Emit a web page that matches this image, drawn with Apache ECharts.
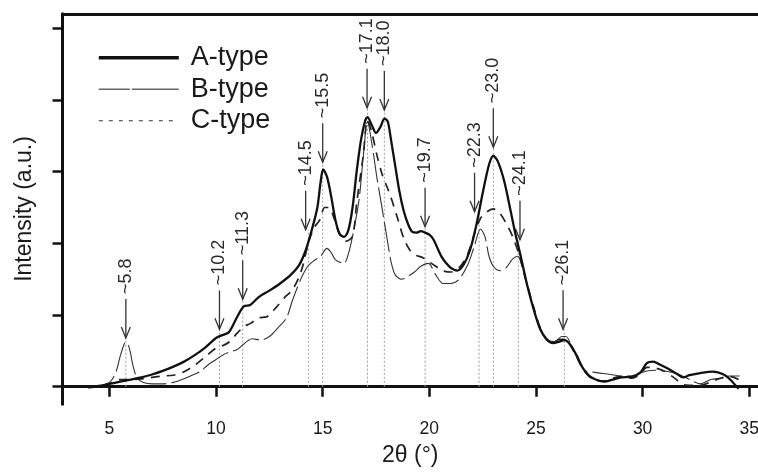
<!DOCTYPE html>
<html>
<head>
<meta charset="utf-8">
<script src="https://cdn.jsdelivr.net/npm/echarts@6/dist/echarts.min.js"></script>
<style>html,body{margin:0;padding:0;background:#fff;}#c{width:758px;height:472px;}</style>
</head>
<body>
<div id="c"></div>
<script>
// ---- data ----
const xTicks = [5, 10, 15, 20, 25, 30, 35];
const yTicks = [0, 1, 2, 3, 4, 5];

const aX = [4.0,4.5,5.0,5.5,6.0,6.5,7.0,7.5,8.0,8.5,9.0,9.5,10.0,10.3,10.6,11.0,11.3,11.6,12.0,12.5,13.0,13.5,13.9,14.2,14.5,14.75,14.9,15.02,15.2,15.4,15.6,15.8,16.0,16.2,16.4,16.6,16.8,17.0,17.1,17.3,17.5,17.7,17.9,18.05,18.2,18.4,18.6,18.8,19.0,19.2,19.4,19.6,19.8,20.0,20.2,20.4,20.6,20.8,21.0,21.3,21.6,21.9,22.2,22.5,22.8,23.0,23.2,23.5,23.8,24.0,24.3,24.6,24.9,25.2,25.5,25.8,26.1,26.35,26.6,26.9,27.2,27.5,27.8,28.2,28.6,29.0,29.5,29.9,30.2,30.5,30.8,31.2,31.6,31.9,32.2,32.7,33.3,33.8,34.1,34.5];
const aY = [-0.01,0.01,0.04,0.07,0.10,0.13,0.17,0.22,0.28,0.35,0.44,0.55,0.68,0.72,0.76,0.98,1.12,1.14,1.25,1.34,1.44,1.56,1.70,1.90,2.20,2.50,2.85,3.03,2.93,2.65,2.32,2.13,2.09,2.18,2.50,3.02,3.45,3.72,3.76,3.65,3.54,3.62,3.74,3.70,3.45,3.08,2.72,2.45,2.27,2.16,2.15,2.17,2.15,2.12,2.05,1.92,1.80,1.72,1.66,1.62,1.70,1.90,2.25,2.70,3.10,3.22,3.15,2.88,2.47,2.18,1.80,1.40,1.07,0.80,0.66,0.61,0.63,0.65,0.59,0.44,0.26,0.15,0.10,0.07,0.10,0.13,0.14,0.20,0.33,0.35,0.31,0.25,0.18,0.13,0.16,0.19,0.21,0.17,0.10,-0.03];

const bX = [4.0,4.5,5.0,5.3,5.5,5.7,5.8,5.95,6.1,6.3,6.6,7.0,7.5,8.0,8.4,8.8,9.3,9.6,10.0,10.3,10.6,11.0,11.7,12.1,12.5,12.9,13.3,13.6,14.0,14.3,14.6,14.9,15.2,15.4,15.6,16.0,16.2,16.4,16.7,16.9,17.1,17.3,17.55,17.75,18.0,18.2,18.4,18.7,19.0,19.3,19.6,19.95,20.3,20.65,21.0,21.4,21.8,22.1,22.4,22.6,22.8,23.0,23.3,23.6,23.9,24.15,24.4,24.7,25.0,25.3,25.6,25.9,26.2,26.4,26.7,27.0,27.3,27.5,28.0,28.5,29.0,29.5,29.9,30.2,30.6,31.0,31.4,31.8,32.2,32.7,33.2,33.7,34.1,34.55];
const bY = [-0.01,0.01,0.06,0.20,0.42,0.60,0.62,0.52,0.30,0.12,0.06,0.04,0.04,0.06,0.10,0.15,0.22,0.30,0.38,0.44,0.48,0.52,0.67,0.65,0.70,0.82,0.96,1.22,1.52,1.68,1.76,1.82,1.93,1.87,1.77,1.72,1.85,2.10,2.60,3.20,3.70,3.40,2.90,2.55,2.10,1.75,1.56,1.50,1.54,1.60,1.68,1.72,1.56,1.44,1.44,1.50,1.70,1.95,2.20,2.10,1.82,1.68,1.62,1.66,1.78,1.82,1.62,1.30,0.98,0.76,0.64,0.63,0.70,0.70,0.55,0.36,0.22,0.21,0.19,0.17,0.15,0.15,0.19,0.22,0.23,0.22,0.20,0.16,0.10,0.04,0.10,0.12,0.15,0.15];

const cX = [4.0,4.5,5.0,5.5,6.0,6.5,7.0,7.5,8.0,8.5,9.0,9.5,10.0,10.3,10.6,11.0,11.3,11.6,12.0,12.4,12.8,13.2,13.6,14.0,14.35,14.6,14.85,15.1,15.3,15.5,15.8,16.1,16.4,16.6,16.9,17.1,17.3,17.55,17.8,18.0,18.2,18.5,18.8,19.1,19.4,19.7,20.0,20.3,20.6,21.0,21.4,21.8,22.1,22.4,22.7,23.0,23.3,23.6,23.9,24.2,24.5,24.9,25.2,25.5,25.8,26.1,26.35,26.6,26.9,27.2,27.5,27.8,28.2,28.6,29.0,29.5,29.9,30.2,30.6,31.0,31.5,31.9,32.2,32.7,33.3,33.8,34.1,34.5];
const cY = [-0.01,0.01,0.04,0.10,0.10,0.11,0.13,0.15,0.16,0.21,0.30,0.42,0.54,0.57,0.62,0.75,0.84,0.88,0.96,0.98,1.10,1.24,1.36,1.62,2.03,2.22,2.32,2.50,2.50,2.38,2.12,2.03,2.10,2.58,3.22,3.72,3.55,3.22,2.95,2.80,2.64,2.36,2.07,1.90,1.83,1.80,1.74,1.68,1.62,1.60,1.66,1.85,2.12,2.35,2.44,2.48,2.42,2.28,2.10,1.85,1.52,1.10,0.82,0.66,0.62,0.66,0.66,0.58,0.42,0.25,0.14,0.09,0.08,0.12,0.14,0.12,0.18,0.27,0.26,0.22,0.12,0.03,0.02,0.02,0.08,0.13,0.14,0.10];

// peak annotations
const peakLabels = ['~5.8','~10.2','~11.3','~14.5','~15.5','~17.1','~18.0','~19.7','~22.3','~23.0','~24.1','~26.1'];
const arrowX =     [5.77, 10.16, 11.25, 14.2, 15.0, 17.08, 17.89, 19.8, 22.12, 23.0, 24.25, 26.27];
const guideX =     [5.77, 10.16, 11.25, 14.33, 15.0, 17.1, 17.89, 19.8, 22.33, 23.0, 24.17, 26.33];
const arrowTip =   [0.68, 0.80, 1.22, 2.19, 3.13, 3.89, 3.86, 2.23, 2.44, 3.34, 2.05, 0.80];

const FONT = '"Liberation Sans", Arial, Helvetica, sans-serif';
const zip = (xs, ys) => xs.map((x, i) => [x, ys[i]]);
const X_MIN = 2.8, X_MAX = 35.41;
const frameLine = {show: true, lineStyle: {color: '#111', width: 3}};

const chart = echarts.init(document.getElementById('c'), null, {renderer: 'canvas'});
chart.setOption({
  animation: false,
  backgroundColor: '#fff',
  grid: {left: 62.5, top: 13.8, right: 0, bottom: 67.8, outerBoundsMode: 'none', containLabel: false},
  legend: {
    orient: 'vertical', left: 97, top: 42, padding: 0, itemWidth: 80, itemHeight: 14, itemGap: 0,
    itemStyle: {opacity: 0},
    textStyle: {fontFamily: FONT, fontSize: 27, color: '#1a1a1a', lineHeight: 31.5, padding: [0, 0, 0, 7]},
    data: [
      {name: 'A-type', itemStyle: {opacity: 0}, lineStyle: {width: 3.6, color: '#111', type: 'solid'}},
      {name: 'B-type', itemStyle: {opacity: 0}, lineStyle: {width: 1.6, color: '#666', type: [31, 2, 60, 2]}},
      {name: 'C-type', itemStyle: {opacity: 0}, lineStyle: {width: 1.2, color: '#333', type: [4, 6]}}
    ]
  },
  xAxis: [{
    type: 'value', min: X_MIN, max: X_MAX, position: 'bottom',
    axisLine: frameLine, splitLine: {show: false},
    axisTick: {show: true, length: 10, customValues: xTicks, lineStyle: {color: '#111', width: 2.5}},
    axisLabel: {customValues: xTicks, fontFamily: FONT, fontSize: 17.5, color: '#1a1a1a', margin: 16},
    name: '2θ (°)', nameLocation: 'middle', nameGap: 40,
    nameTextStyle: {fontFamily: FONT, fontSize: 23, color: '#1a1a1a'}
  }, {
    type: 'value', min: X_MIN, max: X_MAX, position: 'top',
    axisLine: frameLine, splitLine: {show: false}, axisTick: {show: false}, axisLabel: {show: false}
  }],
  yAxis: {
    type: 'value', min: -0.244, max: 5.202,
    axisLine: frameLine, splitLine: {show: false},
    axisTick: {show: true, length: 10, customValues: yTicks, lineStyle: {color: '#111', width: 2.5}},
    axisLabel: {show: false},
    name: 'Intensity (a.u.)', nameLocation: 'middle', nameRotate: 90, nameGap: 26,
    nameTextStyle: {fontFamily: FONT, fontSize: 23, color: '#1a1a1a'}
  },
  series: [
    {
      type: 'custom', z: 1, silent: true, clip: false, xAxisIndex: 0,
      data: arrowX.map((x, i) => [x, arrowTip[i], guideX[i]]),
      encode: {x: 0, y: 1},
      renderItem: function (params, api) {
        const i = params.dataIndex;
        const tip = api.coord([api.value(0), api.value(1)]);
        const g0 = api.coord([api.value(2), 0]);
        const g1 = api.coord([api.value(2), api.value(1)]);
        const shaft = 39;
        return {
          type: 'group',
          children: [
            {type: 'line', shape: {x1: g0[0], y1: g0[1], x2: g1[0], y2: g1[1]},
             style: {stroke: '#a0a0a0', lineWidth: 1, lineDash: [2, 2]}},
            {type: 'line', shape: {x1: tip[0], y1: tip[1] - shaft, x2: tip[0], y2: tip[1]},
             style: {stroke: '#333', lineWidth: 1.3}},
            {type: 'polyline', shape: {points: [[tip[0] - 4.5, tip[1] - 11], [tip[0], tip[1]], [tip[0] + 4.5, tip[1] - 11]]},
             style: {stroke: '#333', lineWidth: 1.3, fill: null}},
            {type: 'text', x: tip[0], y: tip[1] - shaft - 5, rotation: Math.PI / 2,
             style: {text: peakLabels[i], fontFamily: FONT, fontSize: 18, fill: '#2a2a2a', align: 'left', verticalAlign: 'middle'}}
          ]
        };
      }
    },
    {name: 'B-type', type: 'line', z: 2, symbol: 'none', smooth: 0.3, data: zip(bX, bY),
     itemStyle: {color: '#333'}, lineStyle: {width: 1.1, color: '#333', type: [30, 5]}},
    {name: 'C-type', type: 'line', z: 3, symbol: 'none', smooth: 0.3, data: zip(cX, cY),
     itemStyle: {color: '#222'}, lineStyle: {width: 1.7, color: '#222', type: [9, 7]}},
    {name: 'A-type', type: 'line', z: 4, symbol: 'none', smooth: 0.3, data: zip(aX, aY),
     itemStyle: {color: '#111'}, lineStyle: {width: 2.3, color: '#111'}}
  ]
});
</script>
</body>
</html>
